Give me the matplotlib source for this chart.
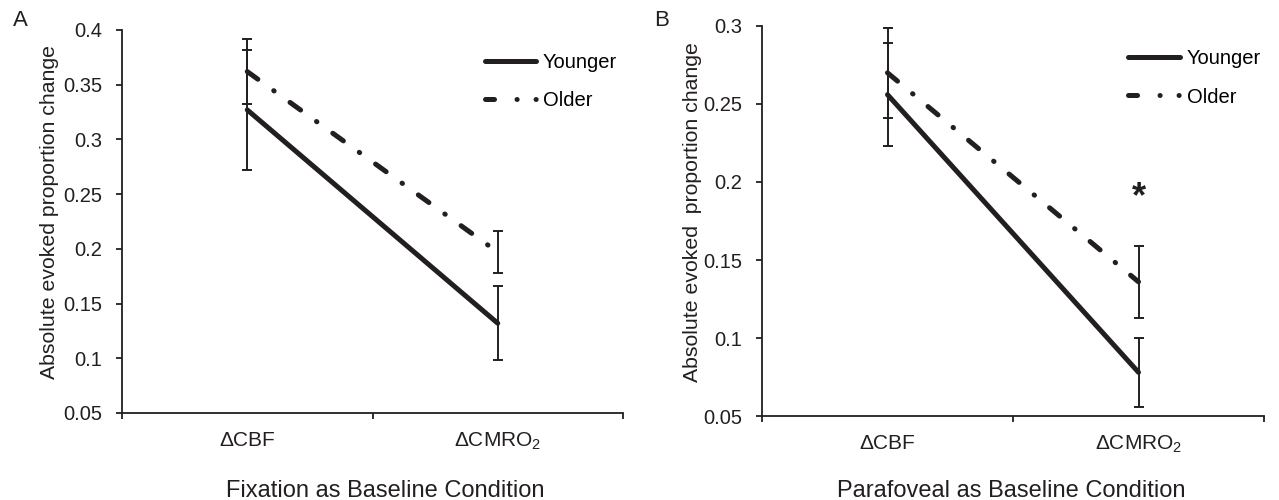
import matplotlib
matplotlib.use("Agg")
import matplotlib.pyplot as plt
from matplotlib.lines import Line2D
from matplotlib.ticker import FixedLocator, FuncFormatter

plt.rcParams['font.family'] = ['Liberation Sans', 'DejaVu Sans']
plt.rcParams['mathtext.fontset'] = 'custom'
plt.rcParams['mathtext.rm'] = 'Liberation Sans'
plt.rcParams['mathtext.it'] = 'Liberation Sans:italic'
plt.rcParams['lines.scale_dashes'] = False

measures = ["ΔCBF", r"ΔCMRO$_2$"]
groups = ["Younger", "Older"]

# panel A - fixation as baseline
fix_young = [0.327, 0.132]
fix_young_err = [0.055, 0.034]
fix_old = [0.362, 0.197]
fix_old_err = [0.030, 0.019]
fix_yticks = [0.05, 0.1, 0.15, 0.2, 0.25, 0.3, 0.35, 0.4]

# panel B - parafoveal as baseline
para_young = [0.256, 0.078]
para_young_err = [0.033, 0.022]
para_old = [0.270, 0.136]
para_old_err = [0.029, 0.023]
para_yticks = [0.05, 0.1, 0.15, 0.2, 0.25, 0.3]

INK = '#231f20'
DASHDOT = (0, (9.4, 14.1, 0.36, 14.1))
LEG_DASHDOT = (0, (6.5, 16.2, 0.1, 13.6, 0.1, 20))
W, H = 1279, 500


def draw_panel(ax, young, young_err, old, old_err, yticks, leg_x):
    x = [0.5, 1.5]
    for vals, errs in ((young, young_err), (old, old_err)):
        ax.errorbar(x, vals, yerr=errs, fmt='none', ecolor=INK,
                    elinewidth=1.4, capsize=3.3, capthick=1.4, zorder=2)
    ax.plot(x, young, color=INK, lw=3.6, solid_capstyle='round', zorder=3)
    ax.plot(x, old, color=INK, lw=3.6, linestyle=DASHDOT,
            dash_capstyle='round', zorder=3)

    ax.set_xlim(0, 2)
    ax.set_ylim(yticks[0], yticks[-1])
    ax.yaxis.set_major_locator(FixedLocator(yticks))
    ax.yaxis.set_major_formatter(FuncFormatter(lambda v, p: f"{v:g}"))
    ax.xaxis.set_major_locator(FixedLocator([0, 1, 2]))
    ax.xaxis.set_major_formatter(FuncFormatter(lambda v, p: ""))
    ax.xaxis.set_minor_locator(FixedLocator(x))
    ax.set_xticklabels(measures, minor=True)

    for side in ('top', 'right'):
        ax.spines[side].set_visible(False)
    for side in ('left', 'bottom'):
        ax.spines[side].set_color(INK)
        ax.spines[side].set_linewidth(1.3)
    ax.tick_params(axis='both', which='major', direction='out', length=4.5,
                   width=1.3, color=INK, labelsize=14.5, pad=9.5,
                   labelcolor=INK)
    ax.tick_params(axis='x', which='minor', length=0, labelsize=15, pad=13,
                   labelcolor=INK)

    handles = [Line2D([], [], color=INK, lw=3.6, solid_capstyle='round'),
               Line2D([], [], color=INK, lw=3.6, dash_capstyle='round',
                      linestyle=LEG_DASHDOT)]
    ax.legend(handles, groups, loc='upper left', bbox_to_anchor=(leg_x, 0.94),
              frameon=False, handlelength=2.54, handletextpad=0.35,
              labelspacing=0.95, fontsize=14.5, borderaxespad=0, borderpad=0)


fig = plt.figure(figsize=(12.79, 5.0), dpi=100)
ax_a = fig.add_axes([122 / W, 1 - 413 / H, 501 / W, 383 / H])
ax_b = fig.add_axes([762 / W, 1 - 416 / H, 502 / W, 390 / H])

draw_panel(ax_a, fix_young, fix_young_err, fix_old, fix_old_err, fix_yticks, 0.7236)
draw_panel(ax_b, para_young, para_young_err, para_old, para_old_err, para_yticks, 0.730)

# axis titles
fig.text(50 / W, 1 - 212 / H, "Absolute evoked proportion change", rotation=90,
         ha='center', va='center', fontsize=15.3, color=INK)
fig.text(692 / W, 1 - 212 / H, "Absolute evoked  proportion change", rotation=90,
         ha='center', va='center', fontsize=15.3, color=INK)
fig.text(385 / W, 1 - 497 / H, "Fixation as Baseline Condition",
         ha='center', va='baseline', fontsize=17, color=INK)
fig.text(1011 / W, 1 - 497 / H, "Parafoveal as Baseline Condition",
         ha='center', va='baseline', fontsize=17, color=INK)

# significance marker over older CMRO2 in panel B
ax_b.text(1.5, 0.190, "*", ha='center', va='center', fontsize=26,
          fontweight='bold', color=INK)

fig.text(20.5 / W, 1 - 20 / H, "A", ha='center', va='center', fontsize=16, color=INK)
fig.text(662 / W, 1 - 20 / H, "B", ha='center', va='center', fontsize=16, color=INK)

fig.savefig("out.png", dpi=100)
